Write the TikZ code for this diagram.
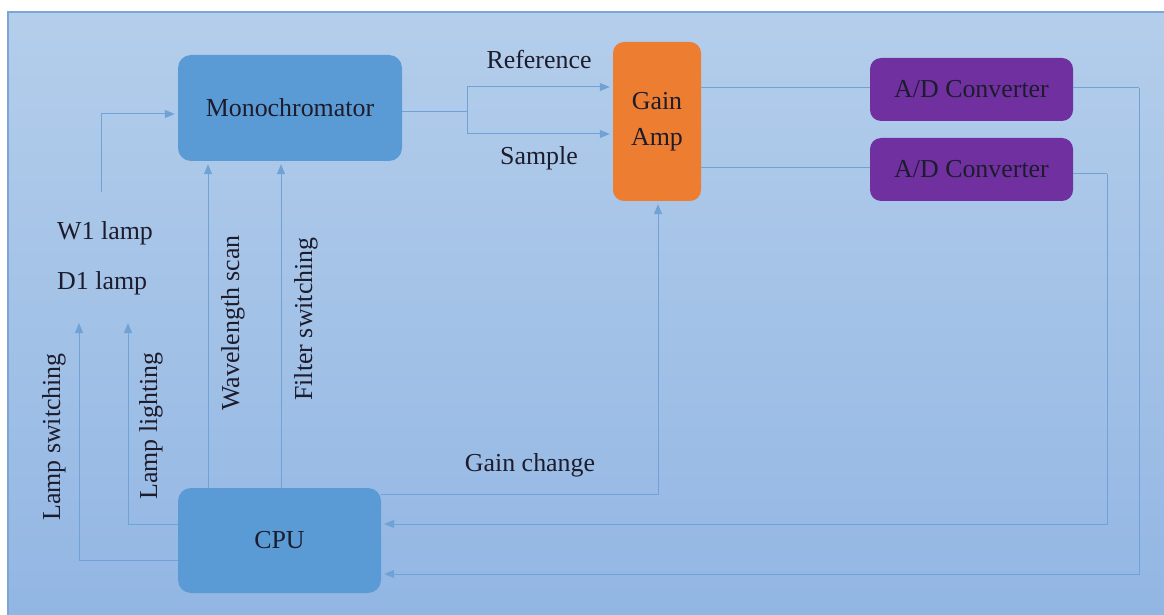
\documentclass[tikz,border=0pt]{standalone}
\usepackage{fontspec}
\setmainfont{Liberation Serif}
\usetikzlibrary{arrows.meta}
\definecolor{bgtop}{HTML}{B4CEEB}
\definecolor{bgbot}{HTML}{92B6E3}
\definecolor{bgedge}{HTML}{7DA5D6}
\definecolor{boxblue}{HTML}{5B9BD5}
\definecolor{lineblue}{HTML}{70A2D6}
\definecolor{orng}{HTML}{ED7D31}
\definecolor{purp}{HTML}{7030A0}
\definecolor{txt}{HTML}{1C1C2C}
\tikzset{
  lbl/.style={text=txt, font=\fontsize{26}{36}\selectfont, inner sep=0pt},
  blk/.style={rounded corners=13bp, text=txt, font=\fontsize{26}{36}\selectfont, align=center, inner sep=0pt},
  conn/.style={draw=lineblue, line width=1bp},
  arr/.style={conn, -{Triangle[length=10bp,width=8bp]}, shorten >=3bp},
}
\begin{document}
\begin{tikzpicture}[x=1bp,y=-1bp]
\useasboundingbox (0,0) rectangle (1164,615);
\fill[white] (0,0) rectangle (1164,615);
\shade[top color=bgtop,bottom color=bgbot] (8,12) rectangle (1164,615);
\draw[bgedge, line width=1.2bp] (8,615) -- (8,12) -- (1164,12);

% blocks
\node[blk, fill=boxblue, minimum width=224bp, minimum height=106bp] (mono) at (290,108) {Monochromator};
\node[blk, fill=orng, rounded corners=11bp, minimum width=88bp, minimum height=159bp] (gain) at (657,121.5) {Gain\\Amp};
\node[blk, fill=purp, rounded corners=11bp, minimum width=203bp, minimum height=63bp] (ad1) at (971.5,89.5) {A/D Converter};
\node[blk, fill=purp, rounded corners=11bp, minimum width=203bp, minimum height=63bp] (ad2) at (971.5,169.5) {A/D Converter};
\node[blk, fill=boxblue, minimum width=203bp, minimum height=105bp] (cpu) at (279.5,540.5) {CPU};

% labels
\node[lbl, anchor=west] (w1) at (57,233) {W1 lamp};
\node[lbl, anchor=west] (d1) at (57,283) {D1 lamp};
\node[lbl] (ref) at (539,60) {Reference};
\node[lbl] (smp) at (539,158) {Sample};
\node[lbl] (gch) at (530,465) {Gain change};
\node[lbl, rotate=90] (wls) at (233,323) {Wavelength scan};
\node[lbl, rotate=90] (fsw) at (306,319) {Filter switching};
\node[lbl, rotate=90] (lsw) at (54,437) {Lamp switching};
\node[lbl, rotate=90] (llt) at (151,426) {Lamp lighting};

% helper coordinates
\coordinate (w1s) at (101,192);
\coordinate (y114) at (0,114);
\coordinate (lswtop) at (79,320);
\coordinate (llttop) at (128,320);
\coordinate (y560) at (0,560);
\coordinate (y524) at (0,524);
\coordinate (y494) at (0,494);
\coordinate (y574) at (0,574);
\coordinate (x208) at (208,0);
\coordinate (x281) at (281,0);
\coordinate (x658) at (658,0);
\coordinate (split) at (467,112);
\coordinate (yref) at (0,87);
\coordinate (ysmp) at (0,134);
\coordinate (yo1) at (0,88);
\coordinate (yo2) at (0,168);
\coordinate (yr2) at (0,174);
\coordinate (c1) at (1139,88);
\coordinate (c2) at (1107,174);

% connectors
\draw[arr] (w1s) |- (mono.west |- y114);
\draw[arr] (cpu.west |- y560) -| (lswtop);
\draw[arr] (cpu.west |- y524) -| (llttop);
\draw[arr] (cpu.north -| x208) -- (mono.south -| x208);
\draw[arr] (cpu.north -| x281) -- (mono.south -| x281);
\draw[conn] (mono.east |- split) -- (split);
\draw[arr] (split) |- (gain.west |- yref);
\draw[arr] (split) |- (gain.west |- ysmp);
\draw[conn] (gain.east |- yo1) -- (ad1.west |- yo1);
\draw[conn] (gain.east |- yo2) -- (ad2.west |- yo2);
\draw[conn] (ad1.east |- c1) -- (c1);
\draw[arr] (c1) |- (cpu.east |- y574);
\draw[conn] (ad2.east |- c2) -- (c2);
\draw[arr] (c2) |- (cpu.east |- y524);
\draw[arr] (cpu.east |- y494) -| (gain.south -| x658);
\end{tikzpicture}
\end{document}
